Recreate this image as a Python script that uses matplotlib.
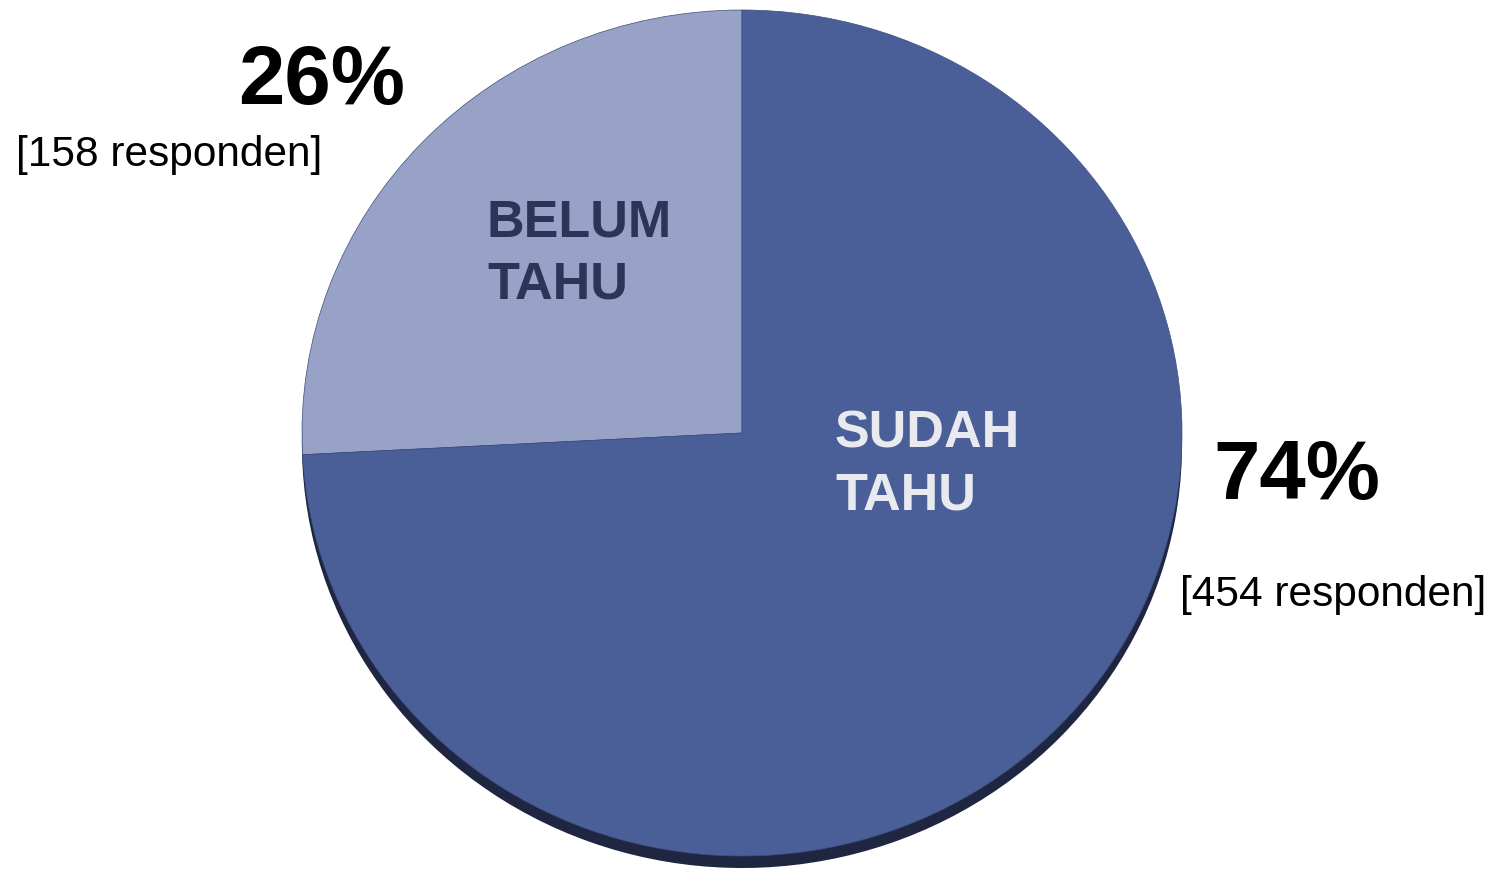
import matplotlib
matplotlib.use("Agg")
import matplotlib.pyplot as plt

# ---- data ----
categories = ["BELUM\nTAHU", "SUDAH\nTAHU"]
respondents = [158, 454]
percent_labels = ["26%", "74%"]
count_labels = ["[158 responden]", "[454 responden]"]

slice_colors = ["#98A2C7", "#4A5E98"]
shadow_color = "#1E2642"
label_colors = ["#2A3558", "#E9EAF0"]

W, H = 1502, 873
fig = plt.figure(figsize=(W / 100, H / 100), dpi=100)
ax = fig.add_axes([0, 0, 1, 1])
ax.axis("off")

rx, ry = 440.0, 423.0
k = rx / ry


def dy(ypx):
    return (H - ypx) * k


cx, cy = 742, 433

# shadow
ax.pie(respondents, colors=[shadow_color] * 2, startangle=90, counterclock=True,
       radius=rx, center=(cx, dy(cy + 12)), frame=True,
       wedgeprops=dict(linewidth=0))
# main pie
ax.pie(respondents, colors=slice_colors, startangle=90, counterclock=True,
       radius=rx, center=(cx, dy(cy)), frame=True,
       wedgeprops=dict(linewidth=0.5, edgecolor="#3E4E80"))
ax.set_xlim(0, W)
ax.set_ylim(0, H * k)
ax.set_aspect("auto")
ax.axis("off")

font = "Liberation Sans"


def ft(x, y, s, **kw):
    fig.text(x / W, 1 - y / H, s, family=font, **kw)


# inside labels
ft(487, 254, categories[0], fontsize=37.5, fontweight="bold", color=label_colors[0],
   ha="left", va="center", linespacing=1.34)
ft(835, 465, categories[1], fontsize=37.5, fontweight="bold", color=label_colors[1],
   ha="left", va="center", linespacing=1.34)

# outside labels
ft(322, 82, percent_labels[0], fontsize=60, fontweight="bold", color="black",
   ha="center", va="center")
ft(169, 155, count_labels[0], fontsize=30.5, color="black", ha="center", va="center")
ft(1297, 477, percent_labels[1], fontsize=60, fontweight="bold", color="black",
   ha="center", va="center")
ft(1333, 595, count_labels[1], fontsize=30.5, color="black", ha="center", va="center")

fig.savefig("out.png", dpi=100, facecolor="white")
